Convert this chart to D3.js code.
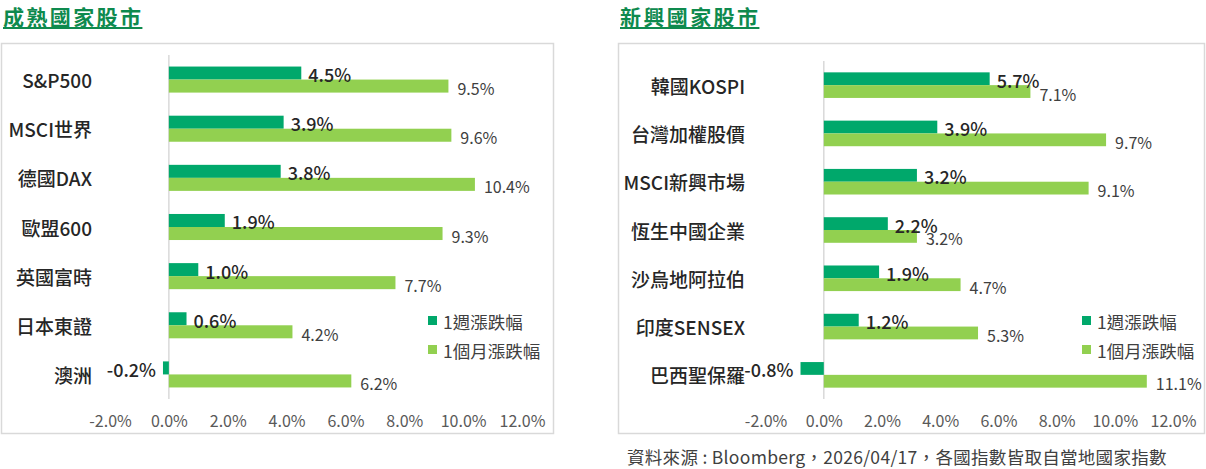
<!DOCTYPE html>
<html>
<head>
<meta charset="utf-8">
<script src="https://cdn.jsdelivr.net/npm/d3@7"></script>
<style>
  body { margin: 0; background: #fff; }
  text { font-family: "Noto Sans CJK TC", "Noto Sans", sans-serif; }
</style>
</head>
<body>
<svg id="grafico" width="1206" height="469"></svg>
<script>
// Mercados desenvolvidos
const catMaduros = ["S&P500", "MSCI世界", "德國DAX", "歐盟600", "英國富時", "日本東證", "澳洲"];
const semanaMaduros = [4.5, 3.9, 3.8, 1.9, 1.0, 0.6, -0.2];
const mesMaduros = [9.5, 9.6, 10.4, 9.3, 7.7, 4.2, 6.2];

// Mercados emergentes
const catEmerg = ["韓國KOSPI", "台灣加權股價", "MSCI新興市場", "恆生中國企業", "沙烏地阿拉伯", "印度SENSEX", "巴西聖保羅"];
const semanaEmerg = [5.7, 3.9, 3.2, 2.2, 1.9, 1.2, -0.8];
const mesEmerg = [7.1, 9.7, 9.1, 3.2, 4.7, 5.3, 11.1];

const ticks = [-2, 0, 2, 4, 6, 8, 10, 12];
const series = ["1週漲跌幅", "1個月漲跌幅"];

const cores = { escuro: "#00A86B", claro: "#92D050", titulo: "#0E8A4E" };

const svg = d3.select("#grafico");

function painel(cfg) {
    const g = svg.append("g");

    // título sublinhado
    const t = g.append("text")
        .attr("x", cfg.tx).attr("y", 25)
        .attr("font-size", 21).attr("font-weight", 700)
        .attr("letter-spacing", 2.4)
        .attr("fill", cores.titulo)
        .text(cfg.titulo);
    const w = t.node().getComputedTextLength();
    g.append("rect").attr("x", cfg.tx).attr("y", 27).attr("width", w - 1).attr("height", 2)
        .attr("fill", cores.titulo);

    // moldura
    g.append("rect")
        .attr("x", cfg.frame[0] + 0.5).attr("y", 43.5)
        .attr("width", cfg.frame[1] - cfg.frame[0]).attr("height", 390)
        .attr("fill", "none").attr("stroke", "#d9d9d9").attr("stroke-width", 1.5);

    const x = d3.scaleLinear().domain([-2, 12]).range(cfg.xr);
    const y = d3.scaleBand().domain(cfg.cats).range(cfg.yr)
        .paddingInner(0.47).paddingOuter(0.235);
    const bh = y.bandwidth() / 2;

    // linha do zero
    g.append("line")
        .attr("x1", x(0)).attr("x2", x(0))
        .attr("y1", cfg.yr[0]).attr("y2", cfg.yr[1])
        .attr("stroke", "#d9d9d9").attr("stroke-width", 1.5);

    const linhas = cfg.cats.map((c, i) => ({ c, s: cfg.semana[i], m: cfg.mes[i] }));

    // barras semanais
    g.selectAll(".sem").data(linhas).join("rect")
        .attr("x", d => x(Math.min(0, d.s)))
        .attr("y", d => y(d.c))
        .attr("width", d => Math.abs(x(d.s) - x(0)))
        .attr("height", bh)
        .attr("fill", cores.escuro);

    // barras mensais
    g.selectAll(".mes").data(linhas).join("rect")
        .attr("x", d => x(Math.min(0, d.m)))
        .attr("y", d => y(d.c) + bh)
        .attr("width", d => Math.abs(x(d.m) - x(0)))
        .attr("height", bh)
        .attr("fill", cores.claro);

    // rótulos semanais
    g.selectAll(".rs").data(linhas).join("text")
        .attr("x", d => d.s >= 0 ? x(d.s) + 7 : x(d.s) - 7)
        .attr("y", d => y(d.c) + bh / 2 + 1)
        .attr("text-anchor", d => d.s >= 0 ? "start" : "end")
        .attr("dominant-baseline", "central")
        .attr("font-size", 18).attr("font-weight", 500)
        .attr("fill", "#262626")
        .text(d => d.s.toFixed(1) + "%");

    // rótulos mensais
    g.selectAll(".rm").data(linhas).join("text")
        .attr("x", d => x(d.m) + 9)
        .attr("y", d => y(d.c) + bh * 1.5 + 2)
        .attr("dominant-baseline", "central")
        .attr("font-size", 16)
        .attr("fill", "#404040")
        .text(d => d.m.toFixed(1) + "%");

    // categorias
    g.selectAll(".cat").data(cfg.cats).join("text")
        .attr("x", cfg.catX)
        .attr("y", d => y(d) + y.bandwidth() / 2)
        .attr("text-anchor", "end")
        .attr("dominant-baseline", "central")
        .attr("font-size", 19).attr("font-weight", 500)
        .attr("fill", "#262626")
        .text(d => d);

    // eixo
    const eixo = g.append("g")
        .attr("transform", "translate(0,421)")
        .call(d3.axisBottom(x).tickValues(ticks).tickSize(0).tickPadding(0)
            .tickFormat(d => d.toFixed(1) + "%"));
    eixo.select(".domain").remove();
    eixo.selectAll("text")
        .attr("y", 0).attr("dy", "0.35em")
        .attr("font-size", 16)
        .attr("font-family", "\"Noto Sans CJK TC\", sans-serif")
        .attr("fill", "#595959");

    // legenda
    const leg = g.append("g");
    series.forEach((s, i) => {
        const yy = 316 + i * 29;
        leg.append("rect").attr("x", cfg.legX).attr("y", yy).attr("width", 9).attr("height", 9)
            .attr("fill", i === 0 ? cores.escuro : cores.claro);
        leg.append("text").attr("x", cfg.legX + 15).attr("y", yy + 5)
            .attr("dominant-baseline", "central")
            .attr("font-size", 17.5).attr("fill", "#404040")
            .text(s);
    });
}

painel({
    titulo: "成熟國家股市", tx: 3, frame: [1, 553],
    cats: catMaduros, semana: semanaMaduros, mes: mesMaduros,
    xr: [110, 522], yr: [55, 399], catX: 92, legX: 428
});

painel({
    titulo: "新興國家股市", tx: 620, frame: [618, 1204],
    cats: catEmerg, semana: semanaEmerg, mes: mesEmerg,
    xr: [765.6, 1173], yr: [61, 399], catX: 745, legX: 1082
});

svg.append("text")
    .attr("x", 627).attr("y", 456)
    .attr("dominant-baseline", "central")
    .attr("font-size", 17.5).attr("letter-spacing", 0.3).attr("fill", "#404040")
    .text("資料來源 : Bloomberg，2026/04/17，各國指數皆取自當地國家指數");
</script>
</body>
</html>
